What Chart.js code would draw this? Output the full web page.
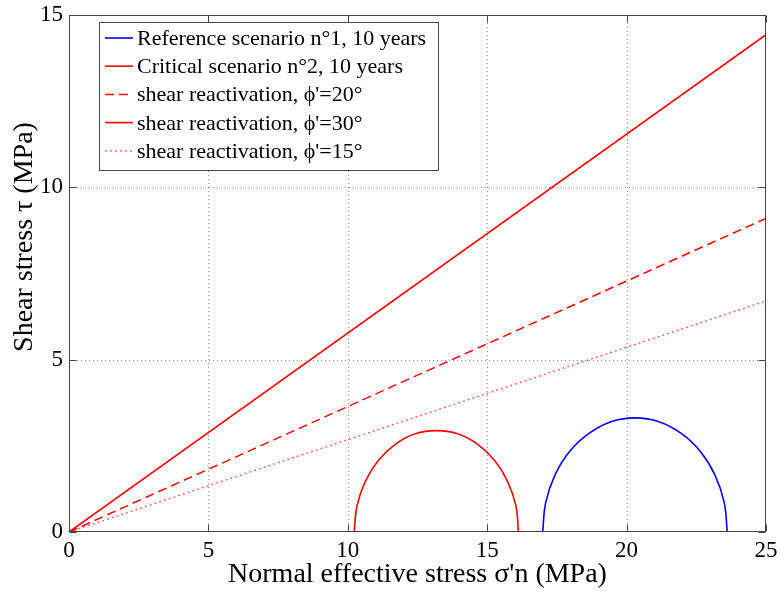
<!DOCTYPE html>
<html>
<head>
<meta charset="utf-8">
<script src="https://cdn.jsdelivr.net/npm/chart.js@4.4.0/dist/chart.umd.min.js"></script>
<style>
  html, body { margin: 0; padding: 0; background: #fff; }
  #wrap { width: 780px; height: 592px; }
</style>
</head>
<body>
<div id="wrap"><canvas id="mohr-chart" width="780" height="592"></canvas></div>
<script>
const SERIF = '"Liberation Serif", "Times New Roman", serif';

// axis ranges and ticks
const X_TICKS = [0, 5, 10, 15, 20, 25];
const Y_TICKS = [0, 5, 10, 15];

// Mohr circle, reference scenario n°1
const REF_X = [16.99, 17.10, 17.43, 17.96, 18.65, 19.44, 20.30, 21.16, 21.96, 22.64, 23.17, 23.50, 23.61];
const REF_Y = [0, 0.86, 1.65, 2.34, 2.86, 3.20, 3.31, 3.20, 2.86, 2.34, 1.65, 0.86, 0];

// Mohr circle, critical scenario n°2
const CRIT_X = [10.23, 10.33, 10.63, 11.10, 11.71, 12.42, 13.18, 13.94, 14.65, 15.26, 15.73, 16.03, 16.12];
const CRIT_Y = [0, 0.76, 1.47, 2.08, 2.55, 2.85, 2.94, 2.85, 2.55, 2.08, 1.47, 0.76, 0];

// failure envelopes (two end points each)
const ENV_X = [0, 25];
const ENV20_Y = [0, 9.10];
const ENV30_Y = [0, 14.43];
const ENV15_Y = [0, 6.70];

const LABELS = [
  'Reference scenario n°1, 10 years',
  'Critical scenario n°2, 10 years',
  "shear reactivation, ϕ'=20°",
  "shear reactivation, ϕ'=30°",
  "shear reactivation, ϕ'=15°",
];

function pts(xs, ys) {
  return xs.map((x, i) => ({ x, y: ys[i] }));
}

function drawGrid(chart) {
  const { ctx, chartArea: a, scales: { x, y } } = chart;
  ctx.save();
  ctx.strokeStyle = '#8a8a8a';
  ctx.lineWidth = 1;
  ctx.setLineDash([1, 3]);
  X_TICKS.slice(1, -1).forEach(v => {
    const px = Math.round(x.getPixelForValue(v)) + 0.5;
    ctx.beginPath(); ctx.moveTo(px, a.top); ctx.lineTo(px, a.bottom); ctx.stroke();
  });
  Y_TICKS.slice(1, -1).forEach(v => {
    const py = Math.round(y.getPixelForValue(v)) + 0.5;
    ctx.beginPath(); ctx.moveTo(a.left, py); ctx.lineTo(a.right, py); ctx.stroke();
  });
  ctx.restore();
}

function drawBox(chart) {
  const { ctx, chartArea: a, scales: { x, y } } = chart;
  ctx.save();
  ctx.strokeStyle = '#444';
  ctx.lineWidth = 1;
  ctx.setLineDash([]);
  const l = Math.round(a.left) + 0.5, r = Math.round(a.right) - 0.5;
  const t = Math.round(a.top) + 0.5, b = Math.round(a.bottom) - 0.5;
  ctx.strokeRect(l, t, r - l, b - t);
  // inward tick marks
  X_TICKS.forEach(v => {
    const px = Math.round(x.getPixelForValue(v)) + 0.5;
    ctx.beginPath(); ctx.moveTo(px, b); ctx.lineTo(px, b - 7); ctx.stroke();
    ctx.beginPath(); ctx.moveTo(px, t); ctx.lineTo(px, t + 7); ctx.stroke();
  });
  Y_TICKS.forEach(v => {
    const py = Math.round(y.getPixelForValue(v)) + 0.5;
    ctx.beginPath(); ctx.moveTo(l, py); ctx.lineTo(l + 7, py); ctx.stroke();
    ctx.beginPath(); ctx.moveTo(r, py); ctx.lineTo(r - 7, py); ctx.stroke();
  });
  ctx.restore();
}

function drawTitles(chart) {
  const { ctx, chartArea: a } = chart;
  ctx.save();
  ctx.fillStyle = '#000';
  ctx.font = '28px ' + SERIF;
  ctx.textAlign = 'center';
  ctx.textBaseline = 'alphabetic';
  ctx.fillText("Normal effective stress σ'n (MPa)", (a.left + a.right) / 2, 582);
  ctx.translate(32, 237);
  ctx.rotate(-Math.PI / 2);
  ctx.fillText('Shear stress τ (MPa)', 0, 0);
  ctx.restore();
}

function drawLegend(chart) {
  const { ctx } = chart;
  const box = { left: 99.5, top: 22.5, width: 339, height: 148 };
  ctx.save();
  ctx.fillStyle = '#fff';
  ctx.fillRect(box.left, box.top, box.width, box.height);
  ctx.strokeStyle = '#444';
  ctx.lineWidth = 1;
  ctx.setLineDash([]);
  ctx.strokeRect(box.left, box.top, box.width, box.height);
  ctx.font = '22px ' + SERIF;
  ctx.textBaseline = 'alphabetic';
  ctx.textAlign = 'left';
  chart.data.datasets.forEach((ds, i) => {
    const cy = 38 + i * 28.2;
    ctx.strokeStyle = ds.borderColor;
    ctx.lineWidth = ds.borderWidth;
    ctx.setLineDash(ds.borderDash || []);
    ctx.beginPath(); ctx.moveTo(105, cy); ctx.lineTo(133, cy); ctx.stroke();
    ctx.fillStyle = '#000';
    ctx.fillText(ds.label, 137, cy + 7);
  });
  ctx.restore();
}

const framePlugin = {
  id: 'frame',
  beforeDatasetsDraw: drawGrid,
  afterDatasetsDraw: drawBox,
  afterDraw(chart) { drawLegend(chart); drawTitles(chart); },
};

const lineBase = { showLine: true, pointRadius: 0, pointHoverRadius: 0, fill: false };

const DATASETS = [
  { ...lineBase, label: LABELS[0], data: pts(REF_X, REF_Y), borderColor: '#0000ff', borderWidth: 1.6, tension: 0.4 },
  { ...lineBase, label: LABELS[1], data: pts(CRIT_X, CRIT_Y), borderColor: '#ff0000', borderWidth: 1.6, tension: 0.4 },
  { ...lineBase, label: LABELS[2], data: pts(ENV_X, ENV20_Y), borderColor: '#ff0000', borderWidth: 1.5, borderDash: [9, 5] },
  { ...lineBase, label: LABELS[3], data: pts(ENV_X, ENV30_Y), borderColor: '#ff0000', borderWidth: 1.6 },
  { ...lineBase, label: LABELS[4], data: pts(ENV_X, ENV15_Y), borderColor: '#ff5050', borderWidth: 1.3, borderDash: [2, 3] },
];

new Chart(document.getElementById('mohr-chart'), {
  type: 'scatter',
  data: { datasets: DATASETS },
  options: {
    responsive: false,
    animation: false,
    devicePixelRatio: 1,
    layout: { padding: { top: 15, right: 14, left: 0, bottom: 0 } },
    plugins: { legend: { display: false }, tooltip: { enabled: false } },
    scales: {
      x: {
        type: 'linear', min: 0, max: 25,
        afterFit(axis) { axis.height = 60; axis.paddingLeft = 0; axis.paddingRight = 0; },
        afterBuildTicks(axis) { axis.ticks = X_TICKS.map(v => ({ value: v })); },
        grid: { display: false, drawTicks: false },
        border: { display: false },
        ticks: { color: '#000', padding: 5, maxRotation: 0, autoSkip: false, font: { family: SERIF, size: 23 } },
      },
      y: {
        type: 'linear', min: 0, max: 15,
        afterFit(axis) { axis.width = 69; axis.paddingTop = 0; axis.paddingBottom = 0; },
        afterBuildTicks(axis) { axis.ticks = Y_TICKS.map(v => ({ value: v })); },
        grid: { display: false, drawTicks: false },
        border: { display: false },
        ticks: { color: '#000', padding: 6, font: { family: SERIF, size: 23 } },
      },
    },
  },
  plugins: [framePlugin],
});
</script>
</body>
</html>
